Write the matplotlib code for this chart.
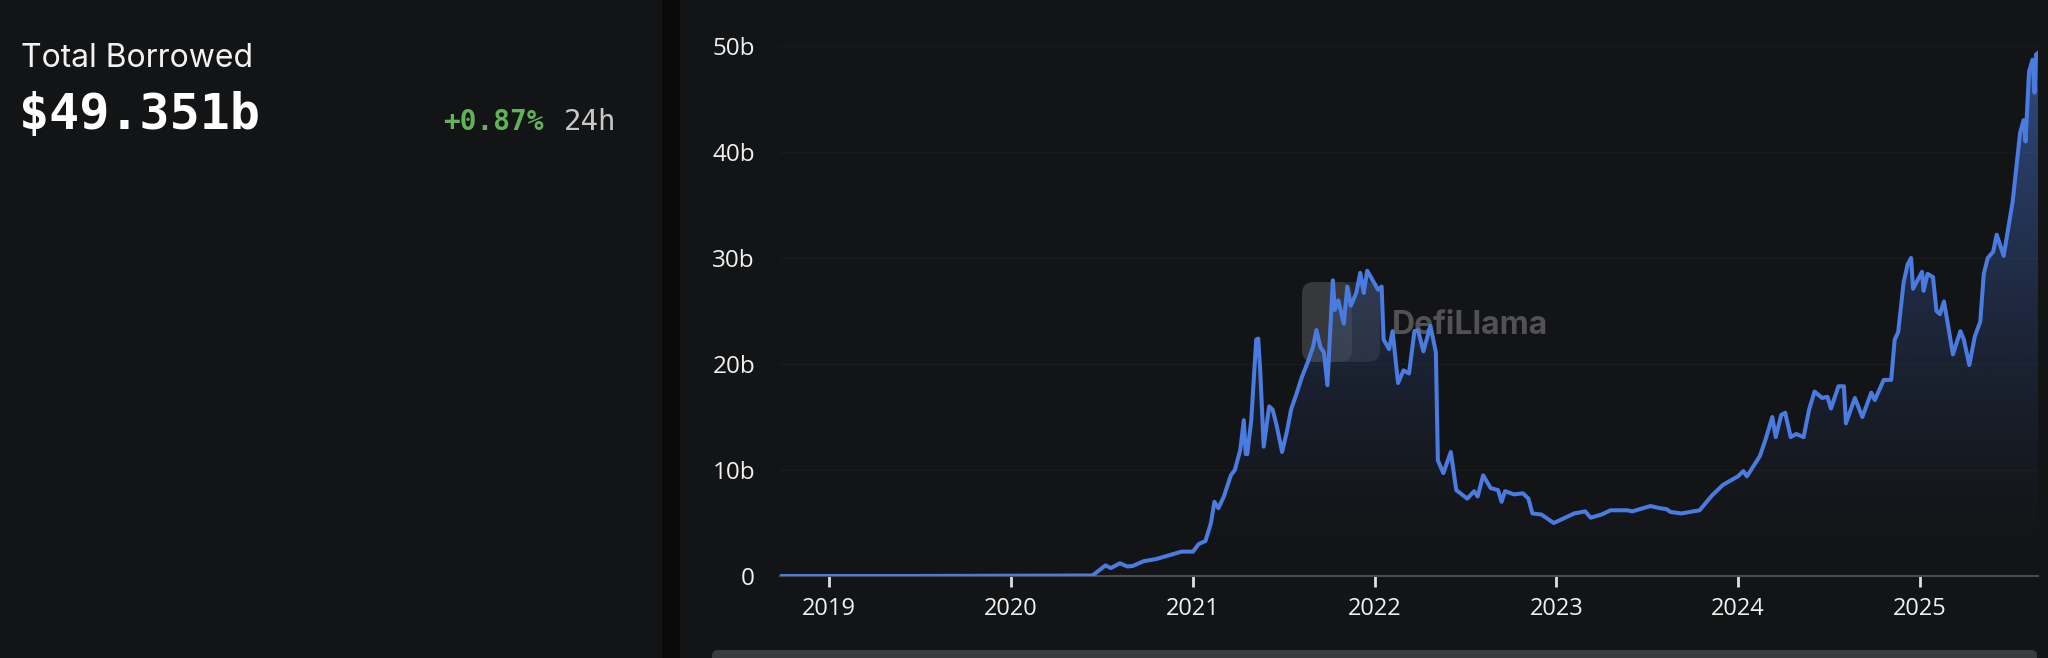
import numpy as np
import pandas as pd
import matplotlib
matplotlib.use("Agg")
import matplotlib.pyplot as plt
import matplotlib.dates as mdates
import matplotlib.colors as mcolors
from matplotlib.patches import Rectangle, Polygon, FancyBboxPatch
from matplotlib.transforms import IdentityTransform

# Total borrowed (billions USD)
dates = [
    "2018-09-24", "2019-06-01", "2020-06-13", "2020-07-09", "2020-07-20", "2020-08-07",
    "2020-08-22", "2020-09-02", "2020-09-24", "2020-10-19", "2020-11-17", "2020-12-09",
    "2021-01-01", "2021-01-12", "2021-01-26", "2021-02-06", "2021-02-13", "2021-02-21",
    "2021-03-04", "2021-03-18", "2021-03-26", "2021-04-06", "2021-04-13", "2021-04-17",
    "2021-04-20", "2021-04-28", "2021-05-08", "2021-05-12", "2021-05-16", "2021-05-23",
    "2021-06-03", "2021-06-10", "2021-06-18", "2021-06-29", "2021-07-09", "2021-07-17",
    "2021-07-28", "2021-08-08", "2021-08-19", "2021-08-30", "2021-09-06", "2021-09-14",
    "2021-09-21", "2021-09-28", "2021-10-02", "2021-10-09", "2021-10-13", "2021-10-20",
    "2021-10-31", "2021-11-07", "2021-11-14", "2021-11-25", "2021-12-03", "2021-12-10",
    "2021-12-17", "2021-12-28", "2022-01-08", "2022-01-15", "2022-01-19", "2022-01-30",
    "2022-02-06", "2022-02-17", "2022-02-28", "2022-03-11", "2022-03-22", "2022-03-29",
    "2022-04-09", "2022-04-23", "2022-05-04", "2022-05-08", "2022-05-19", "2022-06-03",
    "2022-06-14", "2022-07-06", "2022-07-20", "2022-07-27", "2022-08-07", "2022-08-22",
    "2022-09-06", "2022-09-13", "2022-09-20", "2022-10-08", "2022-10-26", "2022-11-06",
    "2022-11-14", "2022-12-02", "2022-12-27", "2023-01-19", "2023-02-06", "2023-02-28",
    "2023-03-11", "2023-04-02", "2023-04-20", "2023-05-23", "2023-06-03", "2023-07-09",
    "2023-07-28", "2023-08-11", "2023-08-18", "2023-09-09", "2023-10-16", "2023-11-10",
    "2023-12-02", "2024-01-01", "2024-01-12", "2024-01-19", "2024-02-14", "2024-02-25",
    "2024-03-10", "2024-03-17", "2024-03-28", "2024-04-05", "2024-04-16", "2024-04-27",
    "2024-05-12", "2024-05-23", "2024-06-03", "2024-06-18", "2024-06-29", "2024-07-06",
    "2024-07-21", "2024-08-01", "2024-08-05", "2024-08-23", "2024-09-07", "2024-09-25",
    "2024-10-02", "2024-10-20", "2024-11-04", "2024-11-11", "2024-11-18", "2024-11-29",
    "2024-12-07", "2024-12-14", "2024-12-18", "2025-01-05", "2025-01-08", "2025-01-16",
    "2025-01-27", "2025-02-03", "2025-02-10", "2025-02-18", "2025-02-25", "2025-03-08",
    "2025-03-23", "2025-03-30", "2025-04-10", "2025-04-21", "2025-05-02", "2025-05-09",
    "2025-05-17", "2025-05-28", "2025-06-04", "2025-06-18", "2025-06-25", "2025-07-06",
    "2025-07-14", "2025-07-21", "2025-07-28", "2025-08-01", "2025-08-08", "2025-08-15",
    "2025-08-19", "2025-08-22", "2025-08-26",
]
borrowed = [
    0.0, 0.0, 0.05, 1.0, 0.75, 1.2,
    0.9, 0.95, 1.4, 1.6, 2.0, 2.3,
    2.3, 3.0, 3.3, 5.0, 7.0, 6.4,
    7.5, 9.5, 10.0, 11.9, 14.7, 11.5,
    11.5, 14.7, 22.3, 22.4, 19.4, 12.2,
    16.0, 15.7, 14.2, 11.7, 13.7, 15.7,
    17.2, 18.8, 20.1, 21.6, 23.2, 21.6,
    21.1, 18.0, 21.6, 27.9, 25.1, 26.0,
    23.8, 27.3, 25.5, 26.7, 28.6, 26.7,
    28.8, 27.9, 27.0, 27.3, 22.3, 21.4,
    23.1, 18.2, 19.4, 19.1, 23.1, 23.2,
    21.2, 23.6, 21.1, 10.9, 9.7, 11.7,
    8.1, 7.3, 8.0, 7.5, 9.5, 8.3,
    8.1, 7.0, 8.0, 7.7, 7.8, 7.3,
    5.9, 5.8, 5.0, 5.5, 5.9, 6.1,
    5.5, 5.8, 6.2, 6.2, 6.1, 6.6,
    6.4, 6.3, 6.05, 5.9, 6.2, 7.6,
    8.6, 9.4, 9.9, 9.4, 11.3, 12.8,
    15.0, 13.1, 15.2, 15.4, 13.1, 13.4,
    13.1, 15.7, 17.4, 16.8, 16.9, 15.8,
    17.9, 17.9, 14.4, 16.8, 15.0, 17.3,
    16.6, 18.5, 18.5, 22.3, 23.0, 27.7,
    29.4, 30.0, 27.1, 28.7, 26.9, 28.5,
    28.2, 25.0, 24.7, 25.9, 24.0, 20.9,
    23.1, 22.3, 19.9, 22.6, 24.0, 28.5,
    30.0, 30.6, 32.2, 30.2, 32.2, 35.3,
    38.8, 41.8, 43.0, 41.0, 47.6, 48.7,
    45.6, 49.2, 49.35,
]

year_ticks = [2019, 2020, 2021, 2022, 2023, 2024, 2025]
y_ticks = [0, 10, 20, 30, 40, 50]
y_labels = ["0", "10b", "20b", "30b", "40b", "50b"]

W, H = 2048, 658
bg = "#131416"
line_color = "#4a7be0"

fig = plt.figure(figsize=(W / 100, H / 100), dpi=100, facecolor=bg)

# left header panel
fig.text(21 / W, 1 - 67 / H, "Total Borrowed", color="#f2f2f2", fontsize=23,
         family="Inter", va="baseline")
fig.text(19 / W, 1 - 129 / H, "$49.351b", color="#ffffff", fontsize=36,
         family="DejaVu Sans Mono", weight="bold", va="baseline")
fig.text(443 / W, 1 - 130 / H, "+0.87%", color="#62b358", fontsize=20,
         family="DejaVu Sans Mono", weight="bold", va="baseline")
fig.text(564 / W, 1 - 130 / H, "24h", color="#c8c8c8", fontsize=21,
         family="DejaVu Sans Mono", va="baseline")

# divider between panels
fig.add_artist(Rectangle((662 / W, 0), 17 / W, 1, transform=fig.transFigure,
                         color="#0a0a0b", zorder=0))

# watermark
fig.add_artist(FancyBboxPatch((1302, 296), 78, 80, boxstyle="round,pad=0,rounding_size=12",
                              transform=IdentityTransform(), facecolor="#5c5c5c",
                              edgecolor="none", alpha=0.28, zorder=-1))
fig.add_artist(FancyBboxPatch((1302, 296), 50, 80, boxstyle="round,pad=0,rounding_size=12",
                              transform=IdentityTransform(), facecolor="#6a6a6a",
                              edgecolor="none", alpha=0.25, zorder=-1))
fig.text(1392, 333, "DefiLlama", transform=IdentityTransform(), color="#525254",
         fontsize=23, family="Inter", weight="bold", va="center", zorder=-1)

# scrollbar at the bottom
fig.add_artist(FancyBboxPatch((712, -12), 1325, 20, boxstyle="round,pad=0,rounding_size=6",
                              transform=IdentityTransform(), facecolor="#3a3b3f",
                              edgecolor="none", zorder=1))

ax = fig.add_axes([780 / W, (H - 576) / H, (2038 - 780) / W, (576 - 46) / H])
ax.patch.set_alpha(0)

x = mdates.date2num(pd.to_datetime(dates))
y = np.array(borrowed)

# gradient area under the line
rgb = mcolors.to_rgb(line_color)
t = np.linspace(0, 1, 256)[:, None]
grad = np.zeros((256, 1, 4))
grad[..., 0], grad[..., 1], grad[..., 2] = rgb
grad[..., 3] = 0.55 * t ** 1.5
im = ax.imshow(grad, extent=[x[0], x[-1], 0, 50], origin="lower", aspect="auto",
               interpolation="bilinear", zorder=2)
area = Polygon(np.column_stack([np.r_[x[0], x, x[-1]], np.r_[0, y, 0]]),
               facecolor="none", edgecolor="none", transform=ax.transData)
ax.add_patch(area)
im.set_clip_path(area)

ax.plot(x, y, color=line_color, lw=2.9, zorder=4, solid_joinstyle="round")

ax.set_xlim(x[0], x[-1])
ax.set_ylim(0, 50)

ax.set_xticks(mdates.date2num(pd.to_datetime([f"{yr}-01-01" for yr in year_ticks])))
ax.set_xticklabels([str(yr) for yr in year_ticks])
ax.set_yticks(y_ticks)
ax.set_yticklabels(y_labels)
ax.tick_params(axis="x", color="#e0e0e0", labelcolor="#f0f0f0", length=8, width=2,
               pad=7, labelsize=17)
ax.tick_params(axis="y", length=0, pad=18, labelcolor="#f0f0f0", labelsize=17.5)
for lab in ax.get_xticklabels() + ax.get_yticklabels():
    lab.set_family("Open Sans")

for side in ["top", "right", "left"]:
    ax.spines[side].set_visible(False)
ax.spines["bottom"].set_color("#4b4c50")
ax.spines["bottom"].set_linewidth(1.5)
ax.spines["bottom"].set_zorder(3)

ax.yaxis.grid(True, color="#1a1b1e", lw=1)
ax.set_axisbelow(True)

fig.savefig("out.png", dpi=100, facecolor=bg)
